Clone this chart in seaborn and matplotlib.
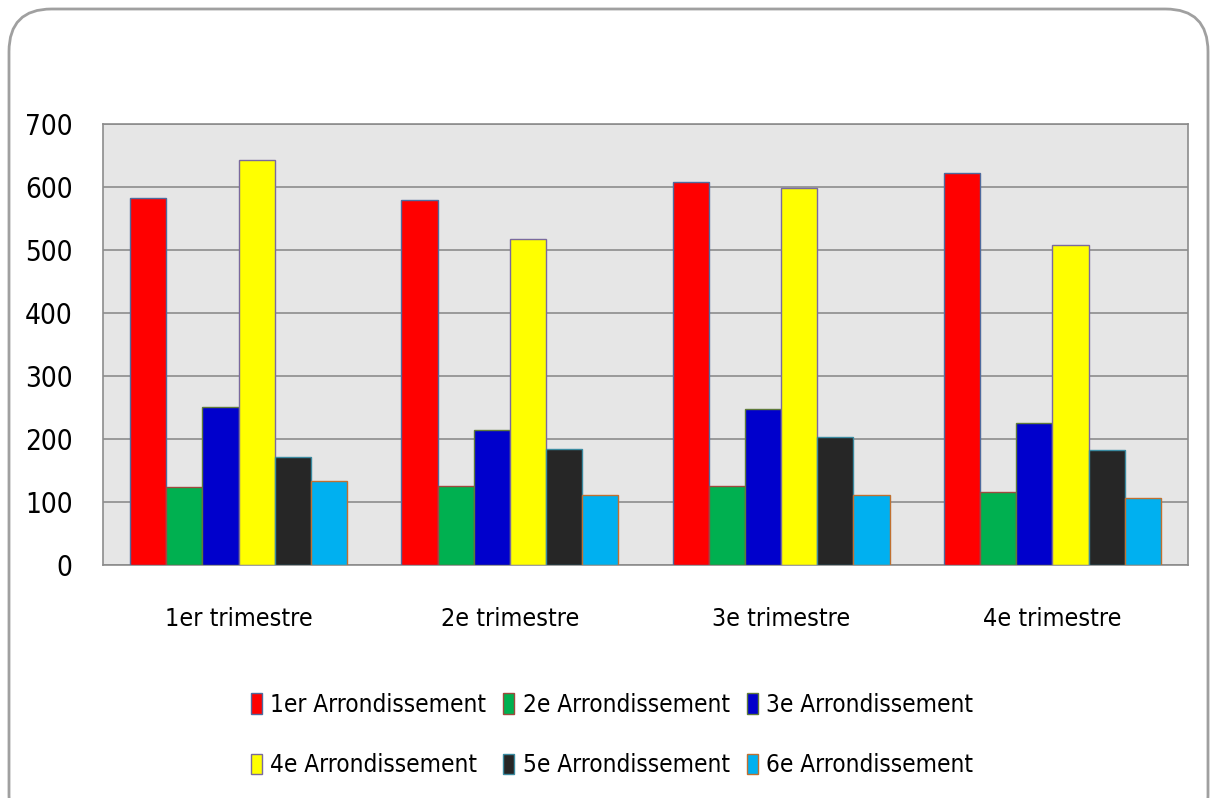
import matplotlib
matplotlib.use("Agg")
import matplotlib.pyplot as plt
from matplotlib.patches import FancyBboxPatch
import seaborn as sns
import pandas as pd

trimestres = ["1er trimestre", "2e trimestre", "3e trimestre", "4e trimestre"]
series_names = ["1er Arrondissement", "2e Arrondissement", "3e Arrondissement",
                "4e Arrondissement", "5e Arrondissement", "6e Arrondissement"]
arr1 = [582, 579, 608, 622]
arr2 = [124, 125, 125, 116]
arr3 = [251, 214, 248, 225]
arr4 = [643, 517, 598, 508]
arr5 = [172, 184, 203, 183]
arr6 = [134, 111, 111, 106]
colors = ["#FF0000", "#00B050", "#0000CC", "#FFFF00", "#262626", "#00B0F0"]
edges = ["#4F6B9E", "#9E4A3E", "#5E7A3A", "#7A6A9E", "#3A8AA0", "#C07030"]
yticks = [0, 100, 200, 300, 400, 500, 600, 700]

rows = []
for name, vals in zip(series_names, [arr1, arr2, arr3, arr4, arr5, arr6]):
    for t, v in zip(trimestres, vals):
        rows.append({"trimestre": t, "serie": name, "valeur": v})
df = pd.DataFrame(rows)

sns.set_theme(style="white")
plt.rcParams["font.family"] = ["DejaVu Sans"]
plt.rcParams["font.stretch"] = "condensed"

fig = plt.figure(figsize=(12.15, 7.98), dpi=100)
W, H = 1215, 798
ax = fig.add_axes([103 / W, 1 - 565 / H, (1188 - 103) / W, (565 - 124) / H])

sns.barplot(data=df, x="trimestre", y="valeur", hue="serie", order=trimestres,
            hue_order=series_names, palette=colors, width=0.8, saturation=1,
            ax=ax, legend=False, zorder=3)
for i, cont in enumerate(ax.containers):
    for p in cont:
        p.set_edgecolor(edges[i])
        p.set_linewidth(1.0)

ax.set_facecolor("#E6E6E6")
ax.set_ylim(0, 700)
ax.set_yticks(yticks)
ax.set_yticklabels([str(v) for v in yticks])
ax.grid(axis="y", color="#8C8C8C", linewidth=1.2, zorder=0)
ax.set_axisbelow(True)
for s in ax.spines.values():
    s.set_color("#8C8C8C")
    s.set_linewidth(1.2)
ax.set_xlabel("")
ax.set_ylabel("")
ax.tick_params(axis="y", labelsize=20, pad=22, length=0, colors="#000000")
ax.tick_params(axis="x", labelsize=18, pad=30, length=0, colors="#000000")

handles = [plt.Rectangle((0, 0), 1, 1, facecolor=c, edgecolor=e, linewidth=1)
           for c, e in zip(colors, edges)]
order = [0, 3, 1, 4, 2, 5]
leg = fig.legend([handles[i] for i in order], [series_names[i] for i in order],
                 ncol=3, loc="upper center",
                 bbox_to_anchor=(612 / W, 1 - 671 / H), frameon=False,
                 fontsize=17.5, handlelength=0.45, handleheight=0.9, handletextpad=0.35,
                 columnspacing=0.7, labelspacing=1.5)
for t in leg.get_texts():
    t.set_color("#000000")

border = FancyBboxPatch((9 / W, -0.05), (1208 - 9) / W, (1 - 9 / H) + 0.05,
                        boxstyle="round,pad=0,rounding_size=0.035",
                        transform=fig.transFigure, facecolor="none",
                        edgecolor="#A0A0A0", linewidth=2, mutation_aspect=W / H)
fig.patches.append(border)

fig.savefig("out.png", dpi=100)
